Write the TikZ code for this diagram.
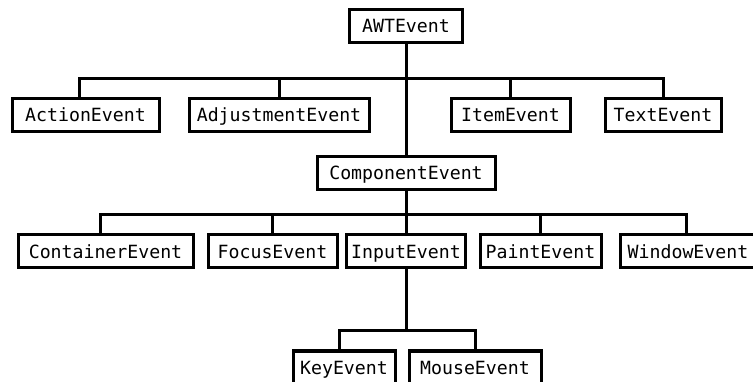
\documentclass[tikz,border=0pt]{standalone}
\usepackage{fontspec}
\setmonofont{DejaVu Sans Mono}
\usepackage{tikz}
\usetikzlibrary{positioning,calc}

\begin{document}
\begin{tikzpicture}[x=1pt, y=-1pt,
                    cls/.style={rectangle, draw, line width=3pt, minimum height=33pt, inner sep=0pt,
                                text height=13.2pt, text depth=0pt,
                                font=\ttfamily\fontsize{18.2}{20}\selectfont},
                    tree/.style={draw, line width=3pt}]
    \useasboundingbox (0,0) rectangle (753,382);

    % Root of the event hierarchy
    \node[cls, minimum width=113pt] (awt) at (406,26) {AWTEvent};

    % First level
    \node[cls, minimum width=147pt] (action) at (85.5,115) {ActionEvent};
    \node[cls, minimum width=180pt] (adjust) at (279,115) {AdjustmentEvent};
    \node[cls, minimum width=119pt] (item)   at (510.5,115) {ItemEvent};
    \node[cls, minimum width=116pt] (text)   at (663,115) {TextEvent};
    \node[cls, minimum width=178pt] (comp)   at (406,173) {ComponentEvent};

    % Second level (below ComponentEvent)
    \node[cls, minimum width=175pt] (container) at (105.5,251.5) {ContainerEvent};
    \node[cls, minimum width=129pt] (focus)     at (272.5,251.5) {FocusEvent};
    \node[cls, minimum width=119pt] (input)     at (406,251.5) {InputEvent};
    \node[cls, minimum width=121pt] (paint)     at (540.5,251.5) {PaintEvent};
    \node[cls, minimum width=136pt] (window)    at (688,251.5) {WindowEvent};

    % Third level (below InputEvent)
    \node[cls, minimum width=102pt] (key)   at (344,367.5) {KeyEvent};
    \node[cls, minimum width=132pt] (mouse) at (475,367.5) {MouseEvent};

    % Branch points
    \coordinate (bar1) at (406,79);
    \coordinate (bar2) at (406,215);
    \coordinate (bar3) at (406,331);

    % Tree lines
    \draw[tree] (awt) -- (comp);
    \draw[tree] ([xshift=-6.5pt]action.north) |- (bar1);
    \draw[tree] (adjust.north) |- (bar1);
    \draw[tree] (item.north) |- (bar1);
    \draw[tree] (text.north) |- (bar1);

    \draw[tree] (comp) -- (input);
    \draw[tree] ([xshift=-5.5pt]container.north) |- (bar2);
    \draw[tree] (focus.north) |- (bar2);
    \draw[tree] (paint.north) |- (bar2);
    \draw[tree] ([xshift=-2pt]window.north) |- (bar2);

    \draw[tree] (input) -- (bar3);
    \draw[tree] ([xshift=-5pt]key.north) |- (bar3);
    \draw[tree] (mouse.north) |- (bar3);
\end{tikzpicture}
\end{document}
